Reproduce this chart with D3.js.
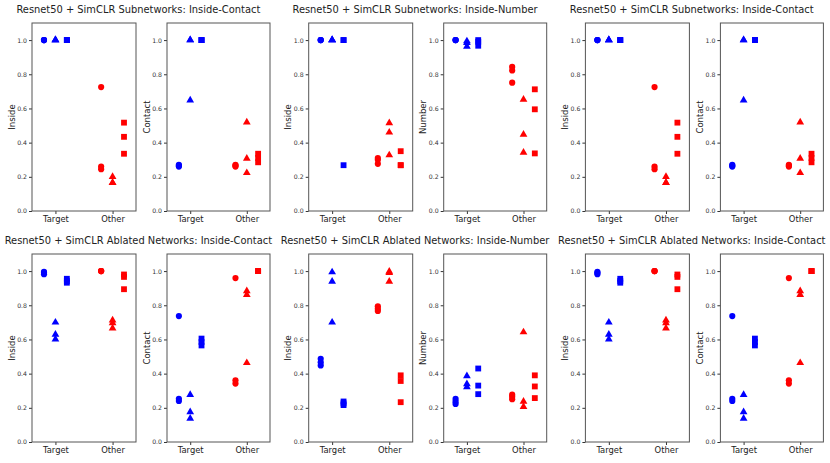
<!DOCTYPE html>
<html>
<head>
<meta charset="utf-8">
<script src="https://cdn.jsdelivr.net/npm/d3@7"></script>
<style>
  html, body { margin: 0; padding: 0; background: #fff; }
  svg { display: block; }
  text { font-family: "DejaVu Sans", sans-serif; }
</style>
</head>
<body>
<svg width="830" height="463"></svg>
<script>
const categories = ["Target", "Other"];
const yTicks = [0, 0.2, 0.4, 0.6, 0.8, 1.0];

const titles = [
  "Resnet50 + SimCLR Subnetworks: Inside-Contact",
  "Resnet50 + SimCLR Subnetworks: Inside-Number",
  "Resnet50 + SimCLR Subnetworks: Inside-Contact",
  "Resnet50 + SimCLR Ablated Networks: Inside-Contact",
  "Resnet50 + SimCLR Ablated Networks: Inside-Number",
  "Resnet50 + SimCLR Ablated Networks: Inside-Contact",
];
const yLabels = [
  ["Inside", "Contact"],
  ["Inside", "Number"],
  ["Inside", "Contact"],
  ["Inside", "Contact"],
  ["Inside", "Number"],
  ["Inside", "Contact"],
];

// each array: [circles, triangles, squares] for Target, then Other
const subContactInsideTarget = [[1, 1, 1], [1, 1, 1], [1, 1, 1]];
const subContactInsideOther = [[0.725, 0.26, 0.245], [0.2, 0.165, 0.165], [0.517, 0.434, 0.335]];
const subContactContactTarget = [[0.27, 0.265, 0.26], [1, 1, 0.648], [1, 1, 1]];
const subContactContactOther = [[0.27, 0.265, 0.26], [0.519, 0.307, 0.223], [0.335, 0.31, 0.285]];

const subNumberInsideTarget = [[1, 1, 1], [1, 1, 1], [1, 1, 0.268]];
const subNumberInsideOther = [[0.31, 0.3, 0.276], [0.515, 0.46, 0.327], [0.35, 0.268, 0.268]];
const subNumberNumberTarget = [[1, 1, 1], [0.994, 0.984, 0.963], [1, 0.99, 0.967]];
const subNumberNumberOther = [[0.843, 0.822, 0.751], [0.652, 0.448, 0.342], [0.712, 0.595, 0.337]];

const ablContactInsideTarget = [[0.995, 0.99, 0.982], [0.7, 0.629, 0.601], [0.955, 0.942, 0.932]];
const ablContactInsideOther = [[1, 1, 1], [0.712, 0.696, 0.665], [0.98, 0.966, 0.894]];
const ablContactContactTarget = [[0.737, 0.253, 0.24], [0.276, 0.176, 0.137], [0.605, 0.585, 0.565]];
const ablContactContactOther = [[0.959, 0.361, 0.342], [0.884, 0.861, 0.463], [1, 1, 1]];

const ablNumberInsideTarget = [[0.487, 0.466, 0.448], [0.994, 0.939, 0.7], [0.237, 0.226, 0.216]];
const ablNumberInsideOther = [[0.794, 0.78, 0.767], [0.998, 0.99, 0.939], [0.39, 0.357, 0.233]];
const ablNumberNumberTarget = [[0.252, 0.236, 0.223], [0.386, 0.339, 0.322], [0.43, 0.33, 0.28]];
const ablNumberNumberOther = [[0.277, 0.265, 0.25], [0.643, 0.237, 0.206], [0.39, 0.325, 0.257]];

const panelData = [
  [[subContactInsideTarget, subContactInsideOther], [subContactContactTarget, subContactContactOther]],
  [[subNumberInsideTarget, subNumberInsideOther], [subNumberNumberTarget, subNumberNumberOther]],
  [[subContactInsideTarget, subContactInsideOther], [subContactContactTarget, subContactContactOther]],
  [[ablContactInsideTarget, ablContactInsideOther], [ablContactContactTarget, ablContactContactOther]],
  [[ablNumberInsideTarget, ablNumberInsideOther], [ablNumberNumberTarget, ablNumberNumberOther]],
  [[ablContactInsideTarget, ablContactInsideOther], [ablContactContactTarget, ablContactContactOther]],
];

const catColors = ["#0000ff", "#ff0000"];
const symbols = [d3.symbolCircle, d3.symbolTriangle, d3.symbolSquare];
const symbolSizes = [30, 26, 34];
const offsets = [-0.2, 0, 0.2];

const svg = d3.select("svg");

const figW = 276.7;
const figH = 231;
const panelX = [[32, 136], [167, 270]];
const panelY = [23, 211];

titles.forEach((title, fi) => {
  const col = fi % 3;
  const row = Math.floor(fi / 3);
  const fig = svg.append("g")
    .attr("transform", `translate(${col * figW},${row * figH})`);

  fig.append("text")
    .attr("x", figW / 2)
    .attr("y", 13)
    .attr("text-anchor", "middle")
    .attr("font-size", 9.9)
    .attr("fill", "#222")
    .text(title);

  panelData[fi].forEach((cats, pi) => {
    const [x0, x1] = panelX[pi];
    const x = d3.scaleLinear().domain([-0.41, 1.41]).range([x0, x1]);
    const y = d3.scaleLinear().domain([0, 1.1]).range([panelY[1], panelY[0]]);

    const ax = fig.append("g");

    ax.append("g")
      .attr("transform", `translate(${x0},0)`)
      .call(d3.axisLeft(y).tickValues(yTicks).tickFormat(d3.format(".1f")).tickSize(3).tickPadding(2))
      .call((g) => g.select(".domain").remove())
      .call((g) => g.selectAll("line").attr("stroke", "#333"))
      .call((g) => g.selectAll("text").attr("font-size", 6.2).attr("fill", "#333").attr("font-family", "DejaVu Sans"));

    ax.append("g")
      .attr("transform", `translate(0,${panelY[1]})`)
      .call(d3.axisBottom(x).tickValues([0, 1]).tickFormat((d) => categories[d]).tickSize(3).tickPadding(2))
      .call((g) => g.select(".domain").remove())
      .call((g) => g.selectAll("line").attr("stroke", "#333"))
      .call((g) => g.selectAll("text").attr("font-size", 8.4).attr("fill", "#222").attr("font-family", "DejaVu Sans"));

    ax.append("text")
      .attr("transform", `translate(${x0 - 17.5},${(panelY[0] + panelY[1]) / 2}) rotate(-90)`)
      .attr("text-anchor", "middle")
      .attr("font-size", 8.5)
      .attr("fill", "#222")
      .text(yLabels[fi][pi]);

    cats.forEach((groups, ci) => {
      groups.forEach((vals, mi) => {
        ax.append("g")
          .selectAll("path")
          .data(vals)
          .join("path")
          .attr("transform", (d) => `translate(${x(ci + offsets[mi])},${y(d)})`)
          .attr("d", d3.symbol(symbols[mi], symbolSizes[mi]))
          .attr("fill", catColors[ci]);
      });
    });

    ax.append("rect")
      .attr("x", x0)
      .attr("y", panelY[0])
      .attr("width", x1 - x0)
      .attr("height", panelY[1] - panelY[0])
      .attr("fill", "none")
      .attr("stroke", "#555")
      .attr("stroke-width", 1);
  });
});
</script>
</body>
</html>
